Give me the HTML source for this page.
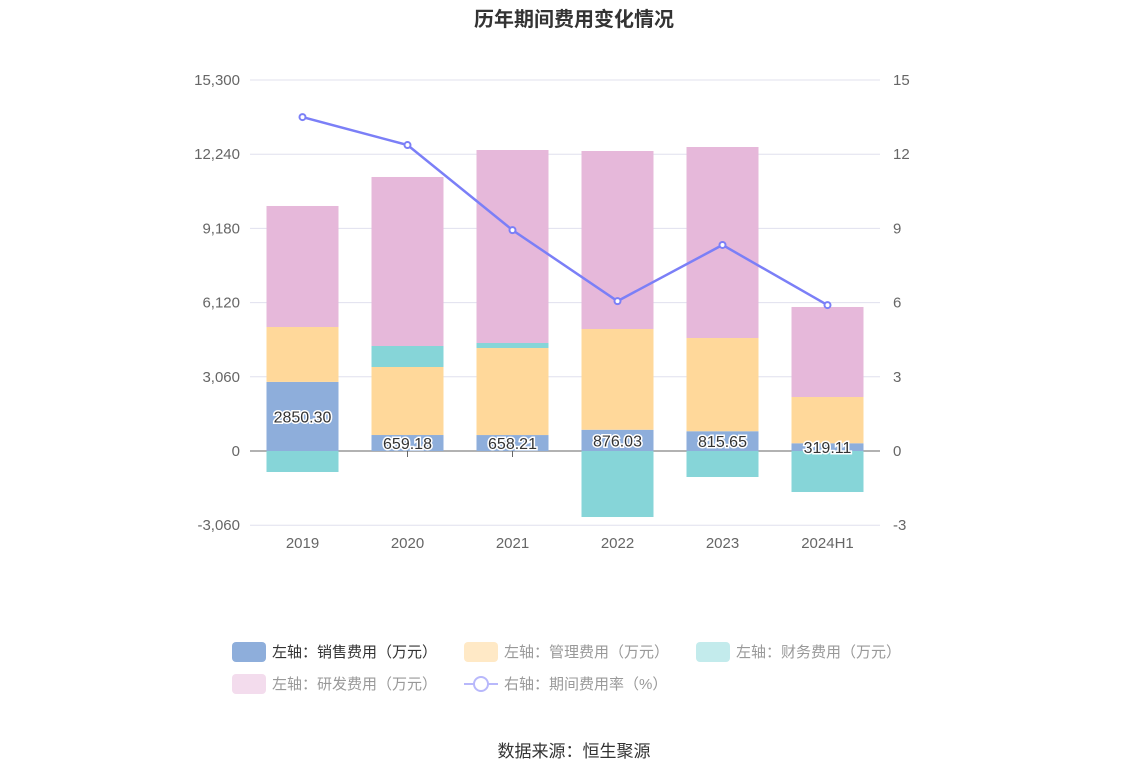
<!DOCTYPE html>
<html><head><meta charset="utf-8"><style>
body{margin:0;background:#fff;font-family:"Liberation Sans","Noto Sans CJK SC",sans-serif;}
svg text{font-family:"Liberation Sans","Noto Sans CJK SC",sans-serif;}
</style></head><body>
<svg id="chart" width="1148" height="776">
<text x="574" y="26" text-anchor="middle" font-size="20" font-weight="bold" fill="#333">历年期间费用变化情况</text>
<g id="grid"></g><g id="bars"></g><g id="line"></g><g id="labels"></g>
<g font-size="15">
<g><rect x="232" y="642" width="34" height="20" rx="4" fill="#8eaedb"/><text x="272" y="657" fill="#333">左轴：销售费用（万元）</text></g>
<g><rect x="464" y="642" width="34" height="20" rx="4" fill="#ffe9c6"/><text x="504" y="657" fill="#999">左轴：管理费用（万元）</text></g>
<g><rect x="696" y="642" width="34" height="20" rx="4" fill="#c3ebec"/><text x="736" y="657" fill="#999">左轴：财务费用（万元）</text></g>
<g><rect x="232" y="674" width="34" height="20" rx="4" fill="#f3dced"/><text x="272" y="689" fill="#999">左轴：研发费用（万元）</text></g>
<g><line x1="464" y1="684" x2="498" y2="684" stroke="#b8b8fb" stroke-width="2"/><circle cx="481" cy="684" r="7" fill="#fff" stroke="#b8b8fb" stroke-width="2"/><text x="504" y="689" fill="#999">右轴：期间费用率（%）</text></g>
</g>
<text x="574" y="757" text-anchor="middle" font-size="17" fill="#333">数据来源：恒生聚源</text>
</svg>
<script>
const categories=["2019","2020","2021","2022","2023","2024H1"];
const sales=[2850.30,659.18,658.21,876.03,815.65,319.11];
const admin=[2264,2805,3590,4155,3844,1908];
const finance=[-866,866,206,-2722,-1072,-1691];
const rd=[4990,6970,7959,7341,7877,3712];
const rate=[13.5,12.37,8.93,6.06,8.33,5.9];
const leftTicks=[-3060,0,3060,6120,9180,12240,15300];
const rightTicks=[-3,0,3,6,9,12,15];
const NS="http://www.w3.org/2000/svg";
const x0=250,x1=880,yTop=80,yBot=524;
const yL=v=>451-(v)*(451-80)/15300;
const yR=v=>451-(v)*(451-80)/15;
const xC=i=>x0+(x1-x0)/categories.length*(i+0.5);
function mk(tag,attrs,parent,txt){const e=document.createElementNS(NS,tag);for(const k in attrs)e.setAttribute(k,attrs[k]);if(txt!==undefined)e.textContent=txt;document.getElementById(parent).appendChild(e);return e;}
leftTicks.forEach((t,i)=>{
 const y=yL(t);
 const g=mk('line',{x1:x0,x2:x1,y1:y,y2:y,stroke:t===0?'#666':'#e0e0ee','stroke-width':1},'grid');
 
 
 const a=mk('text',{x:240,y:y+5,'text-anchor':'end','font-size':15,fill:'#666'},'grid',t.toLocaleString('en-US'));
 
 
 const b=mk('text',{x:893,y:yR(rightTicks[i])+5,'font-size':15,fill:'#666'},'grid',String(rightTicks[i]));
 
 
});
const bw=72;
categories.forEach((c,i)=>{
 const cx=xC(i);
 const tk=mk('line',{x1:cx,x2:cx,y1:451,y2:457,stroke:'#666'},'grid');
 
 
 const xl=mk('text',{x:cx,y:548,'text-anchor':'middle','font-size':15,fill:'#666'},'grid',c);
 
 
 let pos=0,neg=0;
 [[sales,'#8eaedb','sales'],[admin,'#ffd89a','admin'],[finance,'#86d5d8','finance'],[rd,'#e6b8da','rd']].forEach(([arr,col,nm])=>{
  const v=arr[i];let a,b;
  if(v>=0){a=pos;b=pos+v;pos=b;}else{a=neg;b=neg+v;neg=b;}
  const r=mk('rect',{x:cx-bw/2,y:Math.min(yL(a),yL(b)),width:bw,height:Math.abs(yL(a)-yL(b)),fill:col},'bars');
  
  
 });
 const ly=(yL(0)+yL(sales[i]))/2+6;
 const lb=mk('text',{x:cx,y:ly,'text-anchor':'middle','font-size':16,fill:'#333',stroke:'#fff','stroke-width':3,'paint-order':'stroke'},'labels',sales[i].toFixed(2));
 
 
});
const pts=rate.map((v,i)=>xC(i)+','+yR(v)).join(' ');
const pl=mk('polyline',{points:pts,fill:'none',stroke:'#7b7ff7','stroke-width':2.5},'line');


rate.forEach((v,i)=>{
 const p=mk('circle',{cx:xC(i),cy:yR(v),r:3,fill:'#fff',stroke:'#7b7ff7','stroke-width':2},'line');
 
 
});
</script>
</body></html>
